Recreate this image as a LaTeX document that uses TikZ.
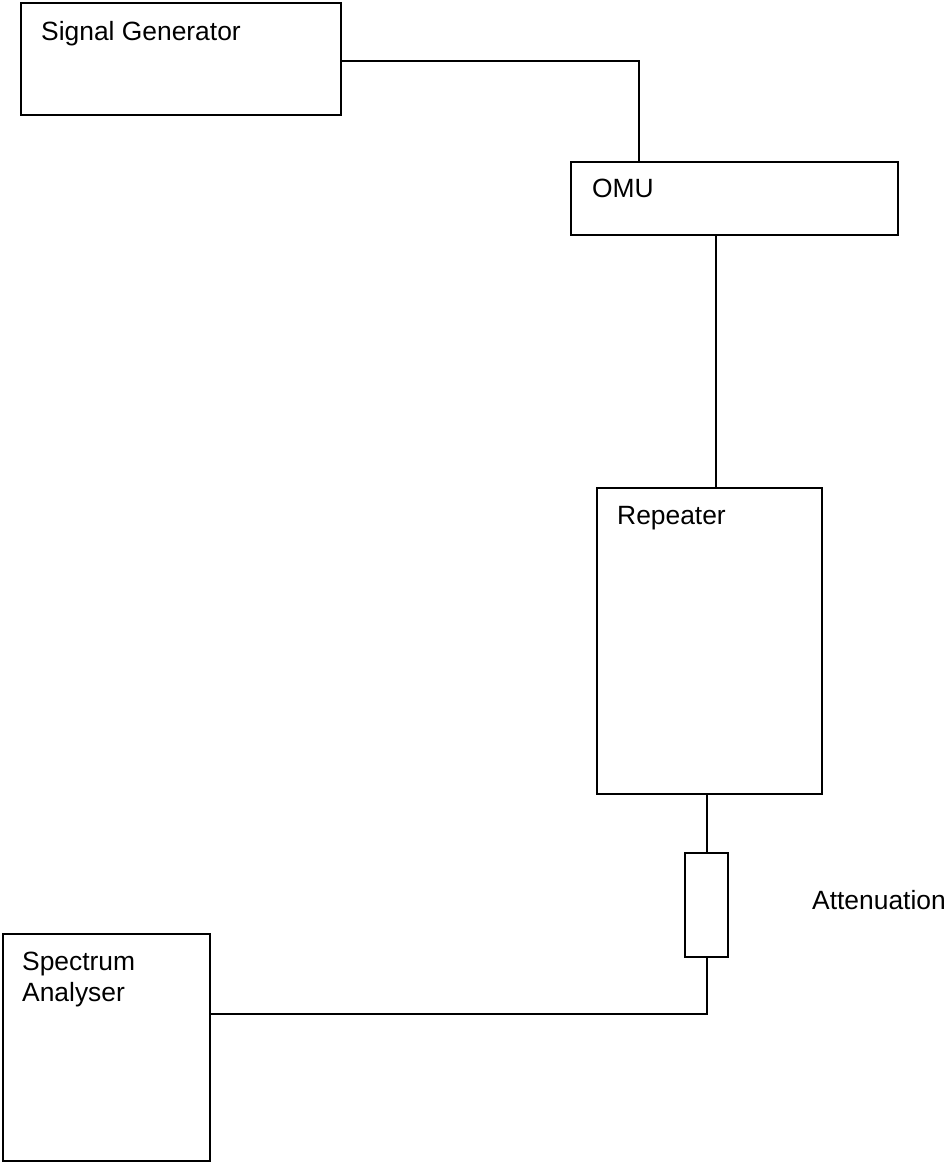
\documentclass[tikz,border=0pt]{standalone}
\usepackage{fontspec}
\setmainfont{Liberation Sans}
\begin{document}
\begin{tikzpicture}[x=1pt,y=-1pt,
  unit/.style={draw=black, line width=2pt, fill=white, rectangle, inner sep=0pt},
  wire/.style={draw=black, line width=2pt},
  lbl/.style={anchor=base west, inner sep=0pt, text=black,
              font=\fontsize{26.4}{31}\selectfont}]
\useasboundingbox (0,0) rectangle (949,1162);

% equipment boxes
\node[unit, minimum width=320pt, minimum height=112pt] (sg)  at (181,59)     {};
\node[unit, minimum width=327pt, minimum height=73pt]  (omu) at (734.5,198.5) {};
\node[unit, minimum width=225pt, minimum height=306pt] (rep) at (709.5,641)   {};
\node[unit, minimum width=43pt,  minimum height=104pt] (att) at (706.5,905)   {};
\node[unit, minimum width=207pt, minimum height=227pt] (sa)  at (106.5,1047.5) {};

% labels
\node[lbl] (sgl)   at (41,40)   {Signal Generator};
\node[lbl] (omul)  at (592,197) {OMU};
\node[lbl] (repl)  at (617,524) {Repeater};
\node[lbl] (attl)  at (812,909) {Attenuation};
\node[lbl] (sal1)  at (22,970)  {Spectrum};
\node[lbl] (sal2)  at (22,1001) {Analyser};

% cabling
\coordinate (omuin)  at ([xshift=69pt]omu.north west);
\coordinate (omuout) at ([xshift=146pt]omu.south west);
\draw[wire] ([yshift=-2pt]sg.east) -| (omuin);
\draw[wire] (omuout) -- (omuout |- rep.north);
\draw[wire] (rep.south -| att.north) -- (att.north);
\draw[wire] (att.south) |- ([yshift=33.5pt]sa.east);
\end{tikzpicture}
\end{document}
